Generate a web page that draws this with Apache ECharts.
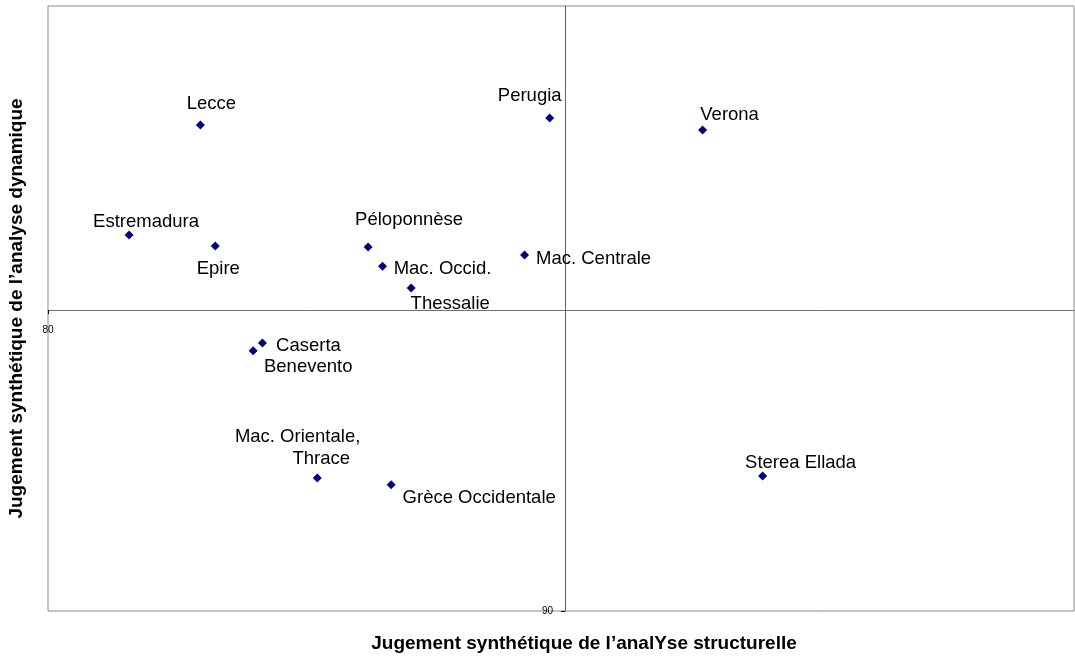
<!DOCTYPE html>
<html>
<head>
<meta charset="utf-8">
<script src="https://cdn.jsdelivr.net/npm/echarts@6/dist/echarts.min.js"></script>
<style>
  html, body { margin: 0; padding: 0; background: #fff; }
  #chart { width: 1075px; height: 657px; }
</style>
</head>
<body>
<div id="chart"></div>
<script>
// regions
var regions = ['Lecce', 'Perugia', 'Verona', 'Estremadura', 'Epire', 'Péloponnèse',
    'Mac. Occid.', 'Thessalie', 'Mac. Centrale', 'Caserta', 'Benevento',
    'Mac. Orientale,\nThrace  ', 'Grèce Occidentale', 'Sterea Ellada'];
// jugement structurel (x)
var structurel = [82.97, 89.78, 92.76, 81.58, 83.26, 86.24, 86.52, 87.08, 89.29, 84.18, 84.00, 85.25, 86.69, 93.93];
// jugement dynamique (y)
var dynamique = [106.07, 106.30, 105.90, 102.43, 102.07, 102.03, 101.40, 100.68, 101.77, 98.86, 98.60, 94.40, 94.17, 94.46];
// tick labels
var xTicks = [80];
var yTicks = [90];
// decalage des etiquettes (px)
var labelOffsets = [[11, -21], [-20, -22], [27, -15], [17, -13], [3, 23], [41, -27], [60, 3],
    [39, 16], [69, 4], [46, 3], [55, 16], [43, -30], [88, 13], [38, -13]];

var font = 'Liberation Sans, Arial, sans-serif';
var myChart = echarts.init(document.getElementById('chart'));

var points = [];
for (var i = 0; i < regions.length; i++) {
    points.push({
        value: [structurel[i], dynamique[i]],
        name: regions[i],
        label: {
            offset: labelOffsets[i],
            align: i === 11 ? 'right' : 'center'
        }
    });
}

var option = {
    animation: false,
    grid: {
        left: 48, right: 1, top: 6, bottom: 46,
        outerBoundsMode: 'none',
        containLabel: false,
        show: true, borderColor: '#8a8a8a', borderWidth: 1
    },
    xAxis: [{
        type: 'value', min: 80, max: 100, position: 'bottom', offset: -301,
        axisLine: { show: true, lineStyle: { color: '#707070', width: 1 } },
        axisTick: { show: true, customValues: xTicks, length: 4, lineStyle: { color: '#000' } },
        axisLabel: { customValues: xTicks, fontSize: 10, color: '#000', fontFamily: font, margin: 15 },
        splitLine: { show: false }
    }, {
        type: 'value', min: 80, max: 100, position: 'bottom',
        name: 'Jugement synthétique de l\u2019analYse structurelle',
        nameLocation: 'middle', nameGap: 23,
        nameTextStyle: { fontSize: 19, fontWeight: 'bold', color: '#000', fontFamily: font, padding: [0, 0, 0, 46] },
        axisLine: { show: false }, axisTick: { show: false }, axisLabel: { show: false },
        splitLine: { show: false }
    }],
    yAxis: [{
        type: 'value', min: 90, max: 110, position: 'left', offset: -517,
        axisLine: { show: true, lineStyle: { color: '#606060', width: 1 } },
        axisTick: { show: true, customValues: yTicks, length: 4, lineStyle: { color: '#000' } },
        axisLabel: { customValues: yTicks, fontSize: 10, color: '#000', fontFamily: font, margin: 12 },
        splitLine: { show: false }
    }, {
        type: 'value', min: 90, max: 110, position: 'left',
        name: 'Jugement synthétique de l\u2019analyse dynamique',
        nameLocation: 'middle', nameGap: 22,
        nameTextStyle: { fontSize: 19, fontWeight: 'bold', color: '#000', fontFamily: font },
        axisLine: { show: false }, axisTick: { show: false }, axisLabel: { show: false },
        splitLine: { show: false }
    }],
    series: [{
        type: 'scatter',
        xAxisIndex: 0, yAxisIndex: 0,
        symbol: 'diamond',
        symbolSize: 9,
        itemStyle: { color: '#000080', opacity: 1 },
        data: points,
        label: {
            show: true,
            position: 'inside',
            verticalAlign: 'middle',
            formatter: '{b}',
            fontSize: 18.5,
            lineHeight: 22,
            color: '#000',
            fontFamily: font
        }
    }]
};
myChart.setOption(option);
</script>
</body>
</html>
